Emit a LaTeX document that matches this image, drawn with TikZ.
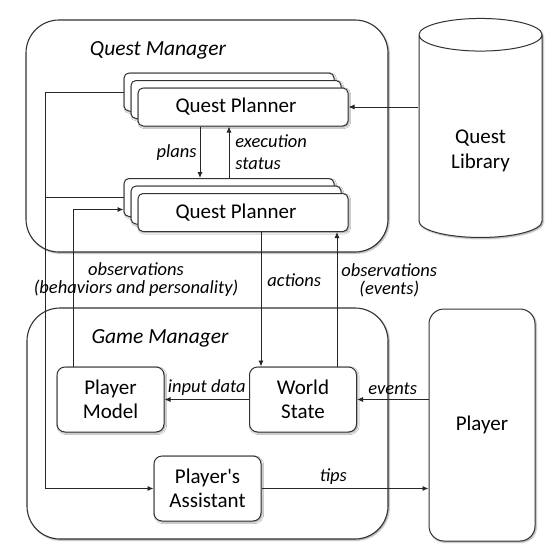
\documentclass[tikz,border=0pt]{standalone}
\usepackage{fontspec}
\setmainfont{Carlito}
\usetikzlibrary{arrows.meta,shapes.geometric,shadows.blur}

\begin{document}
\begin{tikzpicture}[x=1pt, y=-1pt,
 shd/.style={blur shadow={shadow xshift=1.2pt, shadow yshift=-1.2pt, shadow blur radius=1.5pt, shadow opacity=40}},
 grp/.style={draw=black!80, line width=1.1pt, rounded corners=33pt, fill=white, shd},
 box/.style={draw=black!80, line width=1pt, rounded corners=8pt, fill=white, minimum width=107pt, minimum height=65pt, align=center, font=\fontsize{21}{24}\selectfont, shd},
 qp/.style={box, rounded corners=5pt, minimum width=210pt, minimum height=38pt},
 ttl/.style={font=\fontsize{21.5}{24}\selectfont\itshape},
 lbl/.style={font=\fontsize{18.5}{22}\selectfont\itshape, align=center, inner sep=1pt},
 arr/.style={-{Latex[length=6pt,width=5pt]}, draw=black!85, line width=0.85pt},
 ln/.style={draw=black!85, line width=0.85pt},
]
\useasboundingbox (0,0) rectangle (557,557);
% quest side
\node[grp, minimum width=362pt, minimum height=232pt] (qm) at (207,136) {};
\node[ttl] (qmt) at (158,50) {Quest Manager};
\node[qp] (qp1a) at (229,92) {};
\node[qp] (qp1b) at (236,99.5) {};
\node[qp] (qp1) at (243,107) {Quest Planner\hspace*{14pt}};
\node[qp] (qp2a) at (229,197.5) {};
\node[qp] (qp2b) at (236,205) {};
\node[qp] (qp2) at (243,212.5) {Quest Planner\hspace*{14pt}};
\node[cylinder, shape border rotate=90, aspect=0.5, draw=black!80, line width=1pt, fill=white, shd,
 minimum width=123pt, minimum height=219pt, font=\fontsize{21}{25}\selectfont]
 (ql) at (480.5,139) {\raisebox{-12pt}[\height][\depth]{\begin{tabular}{@{}c@{}}Quest\\Library\end{tabular}}};
% game side
\node[grp, minimum width=361pt, minimum height=231pt] (gm) at (207.5,423.5) {};
\node[ttl] (gmt) at (160,338) {Game Manager};
\node[box] (pm) at (110.5,399.5) {Player\\Model};
\node[box] (ws) at (303,399.5) {World\\State};
\node[box] (pa) at (207.5,488.5) {Player\textquotesingle s\\Assistant};
\node[box, rounded corners=15pt, minimum width=106pt, minimum height=232pt] (pl) at (482,425) {Player};
% connectors
\coordinate (lft) at (45,300);
\draw[arr] (qp1a.west) -- (qp1a.west -| lft) |- (pa.west);
\draw[ln] (qp2a.west) -- (qp2a.west -| lft);
\draw[arr] (qp1.east -| ql.west) -- (qp1.east);
\draw[arr] ([xshift=-43pt]qp1.south) -- ([xshift=-29pt]qp2a.north)
 node[lbl, midway, left=2pt] {plans};
\draw[arr] (qp2a.north) -- ([xshift=-14pt]qp1.south)
 node[lbl, midway, right=5pt, align=left] {execution\\status};
\coordinate (obp) at ([xshift=17pt]pm.north west);
\draw[arr] (obp) |- ([yshift=-12pt]qp2a.west);
\node[lbl, font=\fontsize{18.5}{18}\selectfont\itshape] (obl) at (136,280) {observations\\(behaviors and personality)};
\coordinate (act) at ([xshift=18pt]qp2.south);
\draw[arr] (act) -- (act |- ws.north) node[lbl, pos=0.36, right=5pt] {actions};
\coordinate (obe) at ([xshift=34pt]ws.north);
\draw[arr] (obe) -- (obe |- qp2.south)
 node[lbl, pos=0.64, right=3pt, font=\fontsize{18.5}{18}\selectfont\itshape] {observations\\(events)};
\draw[arr] (ws.west) -- (pm.east) node[lbl, midway, above=3pt] {input data};
\draw[arr] (ws.east -| pl.west) -- (ws.east) node[lbl, midway, above=3pt] {events};
\draw[arr] (pa.east) -- (pa.east -| pl.west) node[lbl, pos=0.43, above=3pt] {tips};
\end{tikzpicture}
\end{document}
